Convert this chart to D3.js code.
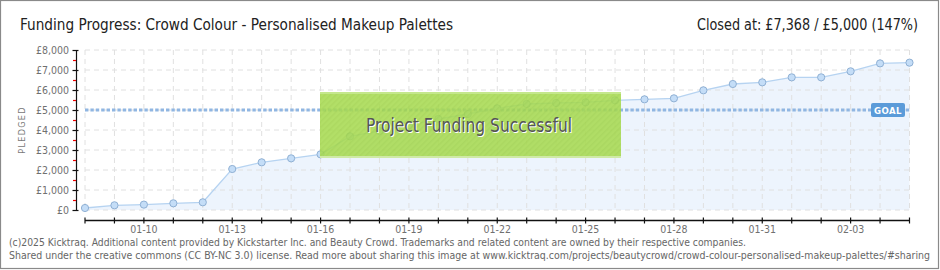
<!DOCTYPE html>
<html><head><meta charset="utf-8">
<script src="https://cdn.jsdelivr.net/npm/d3@7"></script>
<style>body{margin:0;background:#fff}svg{display:block}</style>
</head><body>
<script>
const dates = ["01-08","01-09","01-10","01-11","01-12","01-13","01-14","01-15","01-16","01-17","01-18","01-19","01-20","01-21","01-22","01-23","01-24","01-25","01-26","01-27","01-28","01-29","01-30","01-31","02-01","02-02","02-03","02-04","02-05"];
const pledged = [100,235,270,335,385,2050,2383,2583,2783,3683,3950,4230,4550,4800,5083,5300,5350,5383,5483,5533,5583,5983,6300,6383,6633,6633,6933,7330,7368];
const goal = 5000;
const yTicks = [0,1000,2000,3000,4000,5000,6000,7000,8000];
const yTickLabels = ["£0","£1,000","£2,000","£3,000","£4,000","£5,000","£6,000","£7,000","£8,000"];
const xLabelDates = ["01-10","01-13","01-16","01-19","01-22","01-25","01-28","01-31","02-03"];
const titleText = "Funding Progress: Crowd Colour - Personalised Makeup Palettes";
const closedText = "Closed at:  £7,368 /  £5,000 (147%)";
const footer1 = "(c)2025 Kicktraq. Additional content provided by Kickstarter Inc. and Beauty Crowd. Trademarks and related content are owned by their respective companies.";
const footer2 = "Shared under the creative commons (CC BY-NC 3.0) license. Read more about sharing this image at www.kicktraq.com/projects/beautycrowd/crowd-colour-personalised-makeup-palettes/#sharing";

const W = 940, H = 270;
const svg = d3.select("body").append("svg").attr("width", W).attr("height", H);
const defs = svg.append("defs");
const pat = defs.append("pattern").attr("id","hatch").attr("patternUnits","userSpaceOnUse")
  .attr("width",4).attr("height",4).attr("patternTransform","rotate(45)");
pat.append("rect").attr("width",4).attr("height",4).attr("fill","#a7da50");
pat.append("rect").attr("width",1.5).attr("height",4).attr("fill","#a0d349");

svg.append("rect").attr("x",0.5).attr("y",0.5).attr("width",W-2).attr("height",H-2)
  .attr("fill","#fff").attr("stroke","#8a8a8a").attr("stroke-width",1.2);

const x = d3.scalePoint().domain(dates).range([85, 909.5]);
const y = d3.scaleLinear().domain([0, 8000]).range([210, 50]);
const fnt = "'DejaVu Sans Condensed','DejaVu Sans',sans-serif";

// area
const area = d3.area().x((d,i)=>x(dates[i])).y0(y(0)).y1(d=>y(d));
svg.append("path").datum(pledged).attr("d",area).attr("fill","#edf4fd");

// gridlines
const g = svg.append("g");
g.selectAll(".hg").data(yTicks).join("line")
  .attr("x1",85).attr("x2",910).attr("y1",d=>y(d)).attr("y2",d=>y(d))
  .attr("stroke","#e0e0e0").attr("stroke-dasharray","5,4");
g.selectAll(".vg").data(dates).join("line")
  .attr("x1",d=>x(d)).attr("x2",d=>x(d)).attr("y1",50).attr("y2",210)
  .attr("stroke","#e0e0e0").attr("stroke-dasharray","5,4");

const line = d3.line().x((d,i)=>x(dates[i])).y(d=>y(d));
svg.append("path").datum(pledged).attr("d",line).attr("fill","none").attr("stroke","#b6d3f1").attr("stroke-width",1.3);

// goal line
svg.append("line").attr("x1",85).attr("x2",910).attr("y1",y(goal)).attr("y2",y(goal))
  .attr("stroke","#90b6e2").attr("stroke-width",3.2).attr("stroke-dasharray","3.4,2");

// points
svg.selectAll(".pt").data(pledged).join("circle")
  .attr("cx",(d,i)=>x(dates[i])).attr("cy",d=>y(d)).attr("r",3.6)
  .attr("fill","#c4ddf7").attr("stroke","#8fb0d4").attr("stroke-width",1);

// goal label
svg.append("rect").attr("x",871).attr("y",103).attr("width",34).attr("height",14).attr("rx",2).attr("fill","#5b9bd9");
svg.append("text").attr("x",888).attr("y",114).attr("text-anchor","middle").attr("fill","#fff")
  .attr("font-family",fnt).attr("font-size",9.5).attr("font-weight","bold").attr("letter-spacing",0.5).text("GOAL");

// y axis
svg.append("line").attr("x1",76.5).attr("x2",76.5).attr("y1",50).attr("y2",210).attr("stroke","#111").attr("stroke-width",1.2);
svg.selectAll(".yt").data(yTicks).join("line")
  .attr("x1",72.5).attr("x2",78.5).attr("y1",d=>y(d)+0.5).attr("y2",d=>y(d)+0.5).attr("stroke","#111").attr("stroke-width",1.2);
svg.selectAll(".ym").data(yTicks.slice(0,-1)).join("line")
  .attr("x1",73).attr("x2",76).attr("y1",d=>y(d+500)+0.5).attr("y2",d=>y(d+500)+0.5).attr("stroke","#e00").attr("stroke-width",1.2);
svg.selectAll(".yl").data(yTicks).join("text")
  .attr("x",69).attr("y",d=>y(d)+4).attr("text-anchor","end").attr("fill","#707070")
  .attr("font-family",fnt).attr("font-size",10.5).text((d,i)=>yTickLabels[i]);
svg.append("text").attr("transform","translate(25,130) rotate(-90)").attr("text-anchor","middle")
  .attr("fill","#777").attr("font-family",fnt).attr("font-size",9).attr("letter-spacing",1.3).text("PLEDGED");

// x axis
svg.append("line").attr("x1",85).attr("x2",910).attr("y1",220.5).attr("y2",220.5).attr("stroke","#111").attr("stroke-width",1.3);
svg.selectAll(".xt").data(dates).join("line")
  .attr("x1",d=>x(d)).attr("x2",d=>x(d)).attr("y1",217.5).attr("y2",223.5).attr("stroke","#111").attr("stroke-width",1.2);
svg.selectAll(".xl").data(xLabelDates).join("text")
  .attr("x",d=>x(d)).attr("y",233).attr("text-anchor","middle").attr("fill","#707070")
  .attr("font-family",fnt).attr("font-size",10.5).text(d=>d);

// success box
svg.append("rect").attr("x",320).attr("y",92).attr("width",301).attr("height",66)
  .attr("fill","url(#hatch)").attr("opacity",0.87);
svg.append("line").attr("x1",320).attr("x2",621).attr("y1",93).attr("y2",93).attr("stroke","#c4e78c").attr("stroke-width",2);
svg.append("line").attr("x1",320).attr("x2",621).attr("y1",157).attr("y2",157).attr("stroke","#cfeaa6").attr("stroke-width",2);
svg.append("text").attr("x",470).attr("y",133).attr("text-anchor","middle").attr("fill","#fff")
  .attr("font-family",fnt).attr("font-size",19).attr("textLength",206).attr("lengthAdjust","spacingAndGlyphs").text("Project Funding Successful");
svg.append("text").attr("x",469).attr("y",132).attr("text-anchor","middle").attr("fill","#555")
  .attr("font-family",fnt).attr("font-size",19).attr("textLength",206).attr("lengthAdjust","spacingAndGlyphs").text("Project Funding Successful");

// titles
svg.append("text").attr("x",20).attr("y",29.5).attr("fill","#222").attr("font-family",fnt).attr("font-size",15.5)
  .attr("textLength",433).attr("lengthAdjust","spacingAndGlyphs").text(titleText);
svg.append("text").attr("x",918).attr("y",29.5).attr("text-anchor","end").attr("fill","#222").attr("font-family",fnt).attr("font-size",15.5)
  .attr("textLength",221).attr("lengthAdjust","spacingAndGlyphs").text(closedText);

// footer
svg.append("text").attr("x",9).attr("y",246).attr("fill","#666").attr("font-family",fnt).attr("font-size",10)
  .attr("textLength",737).attr("lengthAdjust","spacingAndGlyphs").text(footer1);
svg.append("text").attr("x",9).attr("y",259).attr("fill","#666").attr("font-family",fnt).attr("font-size",10)
  .attr("textLength",921).attr("lengthAdjust","spacingAndGlyphs").text(footer2);
</script>
</body></html>
